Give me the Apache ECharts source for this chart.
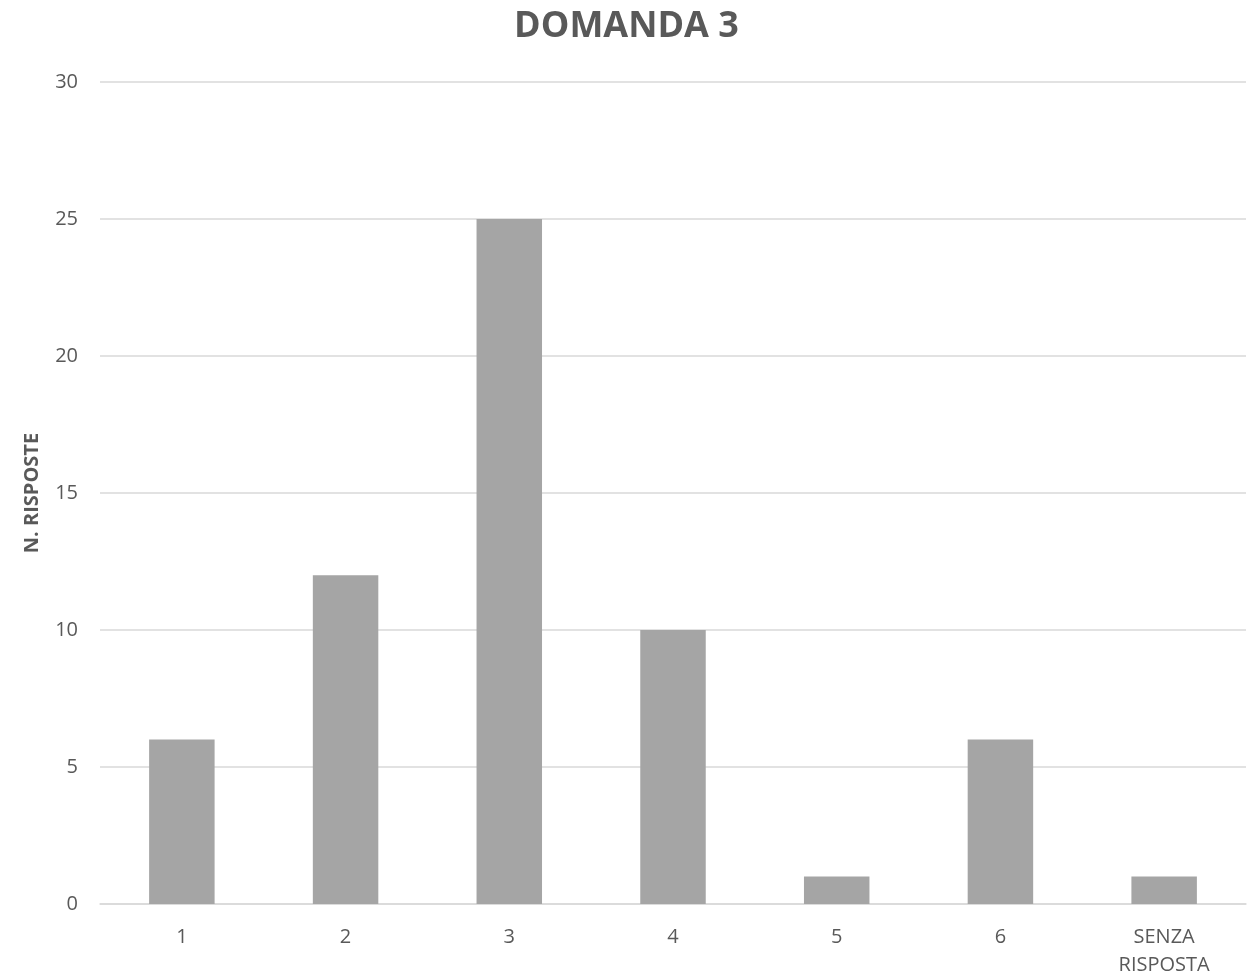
<!DOCTYPE html>
<html>
<head>
<meta charset="utf-8">
<script src="https://cdn.jsdelivr.net/npm/echarts@6/dist/echarts.min.js"></script>
<style>
html,body{margin:0;padding:0;background:#fff;}
#chart{width:1253px;height:979px;}
</style>
</head>
<body>
<div id="chart"></div>
<script>
const categories = ['1', '2', '3', '4', '5', '6', 'SENZA\nRISPOSTA'];
const values = [6, 12, 25, 10, 1, 6, 1];
const yTicks = [0, 5, 10, 15, 20, 25, 30];

const chart = echarts.init(document.getElementById('chart'));
chart.setOption({
  animation: false,
  backgroundColor: '#ffffff',
  title: {
    text: 'DOMANDA 3',
    left: 'center',
    top: 4,
    textStyle: {
      fontFamily: 'Open Sans',
      fontSize: 36,
      fontWeight: 'bold',
      color: '#595959'
    }
  },
  grid: {
    left: 100,
    right: 7,
    top: 82,
    bottom: 66,
    containLabel: false
  },
  xAxis: {
    type: 'category',
    data: categories,
    axisLine: { show: true, lineStyle: { color: '#d9d9d9', width: 1.5 } },
    axisTick: { show: false },
    axisLabel: {
      fontFamily: 'Open Sans',
      fontSize: 20,
      color: '#595959',
      margin: 19,
      lineHeight: 28
    }
  },
  yAxis: {
    type: 'value',
    min: yTicks[0],
    max: yTicks[yTicks.length - 1],
    interval: 5,
    name: 'N. RISPOSTE',
    nameLocation: 'middle',
    nameGap: 58,
    nameTextStyle: {
      fontFamily: 'Open Sans',
      fontSize: 20,
      fontWeight: 'bold',
      color: '#595959'
    },
    axisLine: { show: false },
    axisTick: { show: false },
    axisLabel: {
      fontFamily: 'Open Sans',
      fontSize: 20,
      color: '#595959',
      margin: 22
    },
    splitLine: { lineStyle: { color: '#d9d9d9', width: 1.5 } }
  },
  series: [{
    type: 'bar',
    data: values,
    barWidth: '40%',
    itemStyle: { color: '#a5a5a5' }
  }]
});
</script>
</body>
</html>
